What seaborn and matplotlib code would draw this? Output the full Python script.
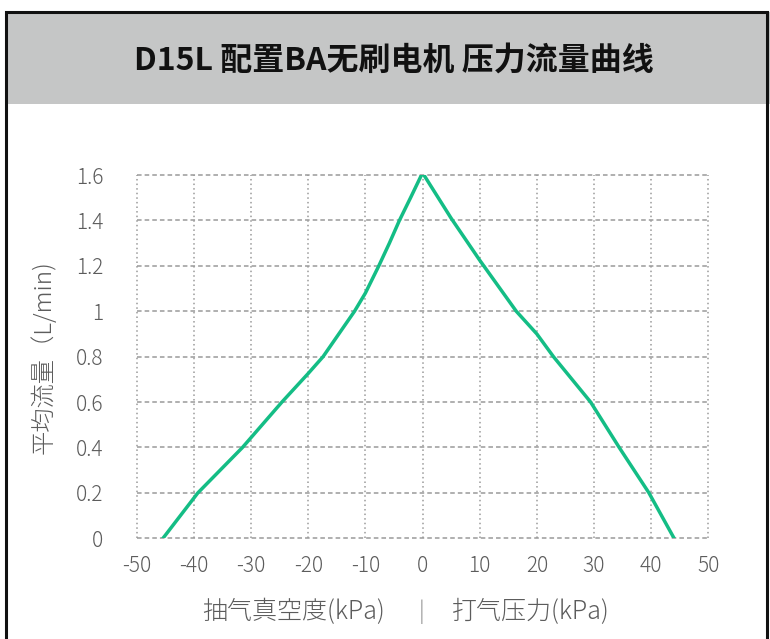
import matplotlib
matplotlib.use("Agg")
import matplotlib.pyplot as plt
from matplotlib.patches import Rectangle
import seaborn as sns
import pandas as pd

# Data: pressure (kPa, negative = vacuum) vs flow (L/min)
pressure = [-45.4, -39.3, -31.5, -24.6, -20, -17.4, -11.9, -10, -7.65, -5.8,
            -4.05, -2.1, 0, 5.0, 10, 16.4, 20, 22.9, 29.4, 34.4, 39.6, 44.0]
flow = [0, 0.2, 0.4, 0.6, 0.726, 0.8, 1.0, 1.08, 1.2, 1.3,
        1.4, 1.5, 1.61, 1.41, 1.225, 1.0, 0.9, 0.8, 0.6, 0.4, 0.2, 0]
x_ticks = [-50, -40, -30, -20, -10, 0, 10, 20, 30, 40, 50]
y_ticks = [0, 0.2, 0.4, 0.6, 0.8, 1.0, 1.2, 1.4, 1.6]

title = "D15L 配置BA无刷电机 压力流量曲线"
ylabel = "平均流量（L/min)"
xlabel_left = "抽气真空度(kPa)"
xlabel_right = "打气压力(kPa)"

df = pd.DataFrame({"pressure": pressure, "flow": flow})

sns.set_theme(style="white")
plt.rcParams['font.family'] = ['Noto Sans CJK SC', 'DejaVu Sans']

grey = "#5c5c5c"
# SC has no light cut installed; the JP family does
light = dict(family=['Noto Sans CJK JP', 'Noto Sans CJK SC', 'DejaVu Sans'], fontweight=300)

fig = plt.figure(figsize=(7.7, 6.39), dpi=100)
ax = fig.add_axes([0.1775, 0.1576, 0.92 - 0.1775, 0.726 - 0.1576])

sns.lineplot(data=df, x="pressure", y="flow", sort=False, color="#14bd85",
             linewidth=2.5, ax=ax)

ax.set_xlim(-50, 50)
ax.set_ylim(0, 1.6)
ax.set_xticks(x_ticks, labels=[f"{v:g}" for v in x_ticks], **light)
ax.set_yticks(y_ticks, labels=[f"{v:g}" for v in y_ticks], **light)
ax.tick_params(axis="y", length=0, pad=24, labelsize=15, labelcolor=grey)
ax.tick_params(axis="x", length=0, pad=12, labelsize=15, labelcolor=grey)
ax.set_xlabel("")
ax.set_ylabel(ylabel, fontsize=17.5, color=grey, labelpad=14, **light)
for s in ax.spines.values():
    s.set_visible(False)
ax.yaxis.grid(True, color="#9a9a9a", linestyle=(0, (3, 2)), linewidth=1.1)
ax.xaxis.grid(True, color="#9a9a9a", linestyle=(0, (1, 2)), linewidth=1.1)
ax.set_axisbelow(True)
for gl in ax.get_xgridlines() + ax.get_ygridlines():
    gl.set_clip_on(False)

# header band and frame
fig.patches.append(Rectangle((6 / 770, 1 - 104 / 639), 1, (104 - 12) / 639,
                             transform=fig.transFigure, facecolor="#c5c6c6",
                             edgecolor="none", zorder=0))
fig.patches.append(Rectangle((6 / 770, -0.1), (767 - 6) / 770, 1.1 - 12 / 639,
                             transform=fig.transFigure, fill=False,
                             edgecolor="#111111", linewidth=2.2, zorder=1))
fig.text(394 / 770, 1 - 61 / 639, title, ha="center", va="center",
         fontsize=23, fontweight="bold", color="#111111")

# x axis label, split around zero
ylab = 1 - 612 / 639
fig.text(385 / 770, ylab, xlabel_left, ha="right", va="center", fontsize=18,
         color=grey, **light)
fig.text(422 / 770, ylab, "|", ha="center", va="center", fontsize=16,
         color="#8a8a8a", **light)
fig.text(452 / 770, ylab, xlabel_right, ha="left", va="center", fontsize=18,
         color=grey, **light)

fig.savefig("out.png", dpi=100, facecolor="white")
